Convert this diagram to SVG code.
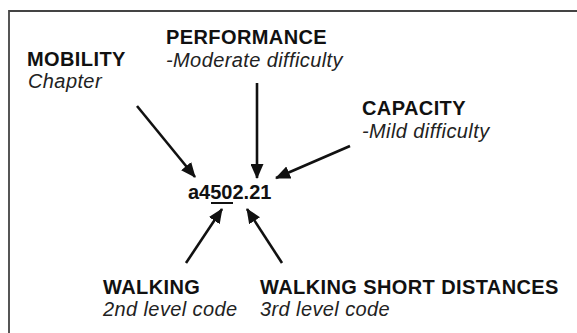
<svg xmlns="http://www.w3.org/2000/svg" width="577" height="333" viewBox="0 0 577 333">
  <defs>
    <marker id="head" markerUnits="userSpaceOnUse" markerWidth="15" markerHeight="13" refX="14" refY="6.5" orient="auto">
      <path d="M0,0 L15,6.5 L0,13 Z" fill="#111"/>
    </marker>
    <style>
      .t { font-family: "Liberation Sans", Arial, sans-serif; font-size: 20px; fill: #111; letter-spacing: 0.4px; }
      .b { font-weight: bold; }
      .i { font-style: italic; fill: #222; }
      .arrow { stroke: #111; stroke-width: 2.6; fill: none; marker-end: url(#head); }
    </style>
  </defs>
  <rect width="577" height="333" fill="#fff"/>
  <!-- frame: top and left edges -->
  <path d="M9,333 V11 H577" fill="none" stroke="#444" stroke-width="1.8"/>

  <g id="mobility">
    <text class="t b" x="27" y="66">MOBILITY</text>
    <text class="t i" x="28" y="88">Chapter</text>
  </g>
  <g id="performance">
    <text class="t b" x="166" y="44">PERFORMANCE</text>
    <text class="t i" x="166" y="67">-Moderate difficulty</text>
  </g>
  <g id="capacity">
    <text class="t b" x="362" y="115">CAPACITY</text>
    <text class="t i" x="362" y="138">-Mild difficulty</text>
  </g>
  <g id="code">
    <text class="t b" x="188" y="199" style="letter-spacing:0">a4502.21</text>
    <line x1="211" y1="203" x2="233" y2="203" stroke="#111" stroke-width="2"/>
  </g>
  <g id="walking">
    <text class="t b" x="103" y="294">WALKING</text>
    <text class="t i" x="103" y="316">2nd level code</text>
  </g>
  <g id="walking-short">
    <text class="t b" x="260" y="294">WALKING SHORT DISTANCES</text>
    <text class="t i" x="260" y="316">3rd level code</text>
  </g>

  <g id="connectors">
    <line class="arrow" x1="137" y1="106" x2="195" y2="177"/>
    <line class="arrow" x1="257" y1="83" x2="257" y2="178"/>
    <line class="arrow" x1="350" y1="146" x2="276" y2="178"/>
    <line class="arrow" x1="186" y1="263" x2="222" y2="209"/>
    <line class="arrow" x1="282" y1="263" x2="247" y2="209"/>
  </g>
</svg>
